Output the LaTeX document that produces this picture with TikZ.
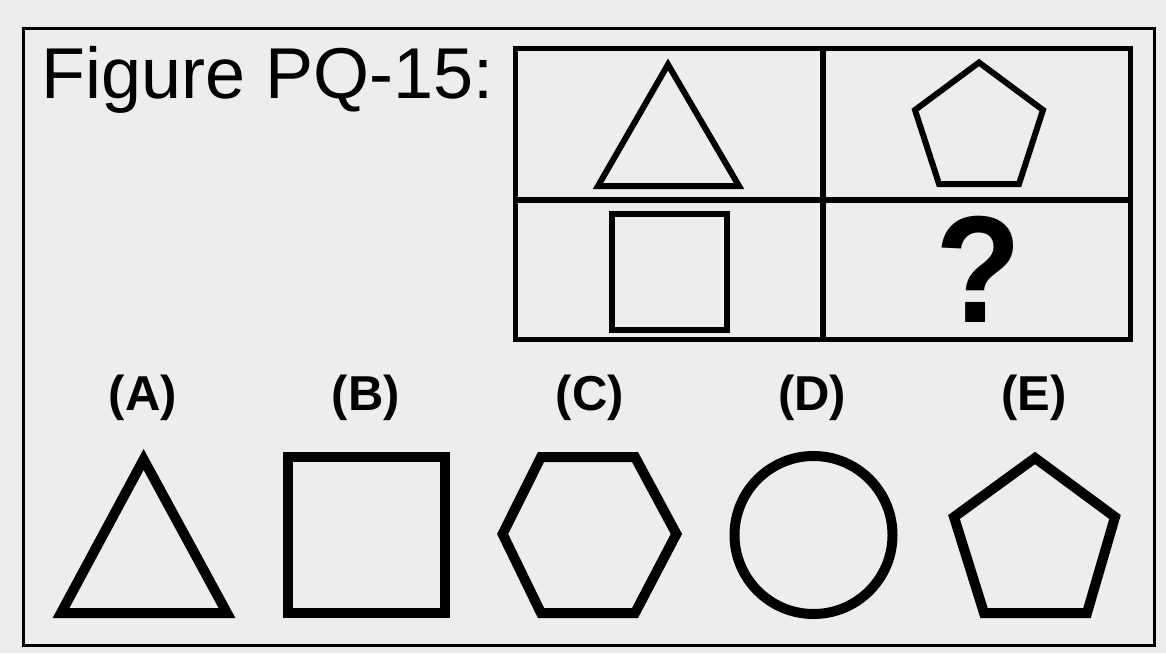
\documentclass[tikz,border=0pt]{standalone}
\usepackage{fontspec}
\setmainfont{Liberation Sans}
\definecolor{paper}{HTML}{EDEDEB}
\begin{document}
\begin{tikzpicture}[x=1pt,y=-1pt,
  thinshape/.style={draw=black,line width=6pt,line join=miter},
  thickshape/.style={draw=black,line width=10pt,line join=miter},
  gridline/.style={draw=black,line width=5.5pt},
  optlabel/.style={anchor=base,inner sep=0pt,font=\bfseries\fontsize{49}{55}\selectfont}]
\useasboundingbox (0,0) rectangle (1166,653);
\fill[paper] (0,0) rectangle (1166,653);
% outer frame
\draw[black,line width=3pt] (23.5,28.5) rectangle (1154.5,645.5);
% title
\node[anchor=base west,inner sep=0pt,font=\fontsize{72}{80}\selectfont] (title) at (41,98) {Figure PQ-15:};
% grid
\draw[gridline] (515.5,48.5) rectangle (1130.5,339.5);
\draw[gridline] (823,48.5) -- (823,339.5);
\draw[gridline] (515.5,200) -- (1130.5,200);
% grid contents
\draw[thinshape] (668,64.5) -- (739,186) -- (598,186) -- cycle;
\draw[thinshape] (979,62.5) -- (1043,110) -- (1019,184) -- (939,184) -- (915,110) -- cycle;
\draw[thinshape] (612,214) rectangle (727,330);
\node[anchor=base,inner sep=0pt,yscale=1.08,font=\bfseries\fontsize{141}{145}\selectfont] (qm) at (979,322.5) {?};
% option labels
\node[optlabel] (labA) at (143,410) {(A)};
\node[optlabel] (labB) at (366,410) {(B)};
\node[optlabel] (labC) at (590,410) {(C)};
\node[optlabel] (labD) at (812,410) {(D)};
\node[optlabel] (labE) at (1034,410) {(E)};
% option shapes
\draw[thickshape] (143.6,459.5) -- (227,613) -- (61,613) -- cycle;
\draw[thickshape] (288,457) rectangle (445,613);
\draw[thickshape] (502.6,534) -- (541,457) -- (635,457) -- (676.4,534) -- (635,613) -- (541,613) -- cycle;
\draw[thickshape] (813.5,535) circle[radius=79];
\draw[thickshape] (1035,458) -- (1115,517) -- (1087,613) -- (984,613) -- (954,517) -- cycle;
\end{tikzpicture}
\end{document}
